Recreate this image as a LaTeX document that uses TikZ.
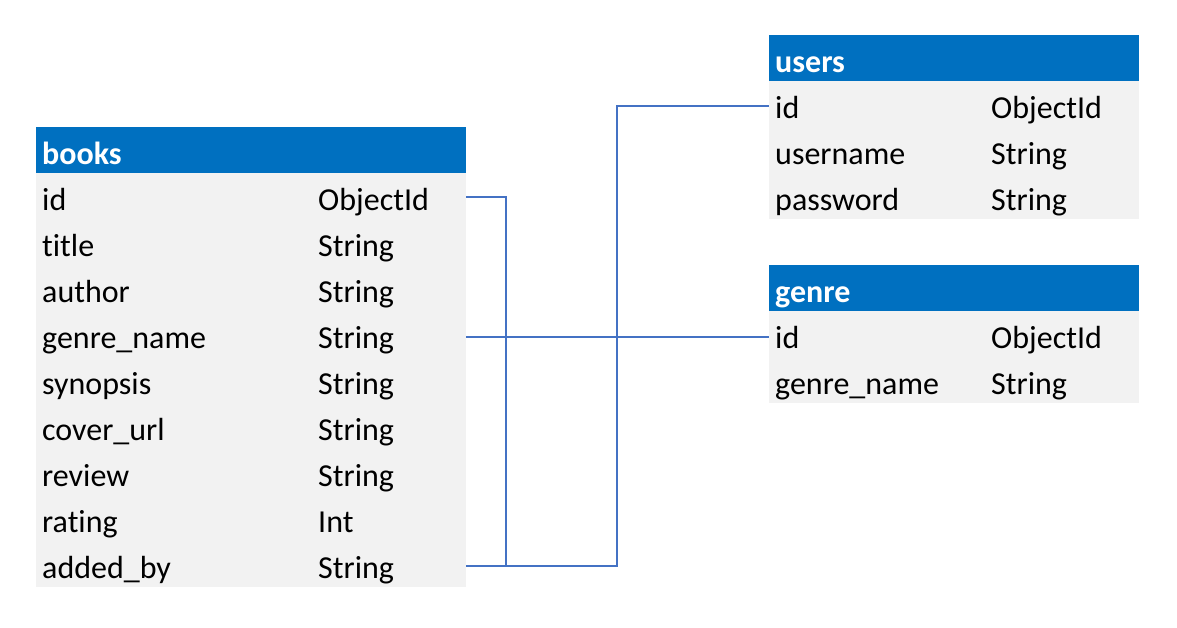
\documentclass[tikz,border=0pt]{standalone}
\usepackage{fontspec}
\setmainfont{Carlito}[Ligatures=NoCommon]
\usetikzlibrary{calc}
\definecolor{hdrblue}{HTML}{0070C0}
\definecolor{rowgray}{HTML}{F2F2F2}
\definecolor{linkblue}{HTML}{4472C4}
\tikzset{
  tbl/.style={anchor=north west, inner xsep=6pt, inner ysep=0pt,
    text height=37pt, text depth=9pt, align=left,
    font=\fontsize{32}{38}\selectfont},
  bookrow/.style={tbl, fill=rowgray, text width=418pt},
  siderow/.style={tbl, fill=rowgray, text width=358pt},
  bookhdr/.style={tbl, fill=hdrblue, text width=418pt, text=white, font=\fontsize{32}{38}\selectfont\bfseries},
  sidehdr/.style={tbl, fill=hdrblue, text width=358pt, text=white, font=\fontsize{32}{38}\selectfont\bfseries},
  conn/.style={draw=linkblue, line width=2pt}
}
\begin{document}
\begin{tikzpicture}[x=1pt,y=-1pt]
\useasboundingbox (0,0) rectangle (1177,628);
% books
\node[bookhdr] (bh) at (36,127) {books};
\foreach \f/\t [count=\i] in {id/ObjectId, title/String, author/String, genre\_name/String, synopsis/String, cover\_url/String, review/String, rating/Int, added\_by/String}{
  \node[bookrow] (b\i) at (36,{173+46*(\i-1)}) {\makebox[276pt][l]{\f}\t};
}
% users
\node[sidehdr] (uh) at (769,35) {users};
\foreach \f/\t [count=\i] in {id/ObjectId, username/String, password/String}{
  \node[siderow] (u\i) at (769,{81+46*(\i-1)}) {\makebox[216pt][l]{\f}\t};
}
% genre
\node[sidehdr] (gh) at (769,265) {genre};
\foreach \f/\t [count=\i] in {id/ObjectId, genre\_name/String}{
  \node[siderow] (g\i) at (769,{311+46*(\i-1)}) {\makebox[216pt][l]{\f}\t};
}
% connectors
\draw[conn] ($(b1.east)+(0,1)$) -- ++(40,0) |- ($(b9.east)+(0,2)$);
\draw[conn] ($(b9.east)+(0,2)$) -- ++(151,0) |- ($(u1.west)+(0,2)$);
\draw[conn] ($(b4.east)+(0,3)$) -- ($(g1.west)+(0,3)$);
\end{tikzpicture}
\end{document}
